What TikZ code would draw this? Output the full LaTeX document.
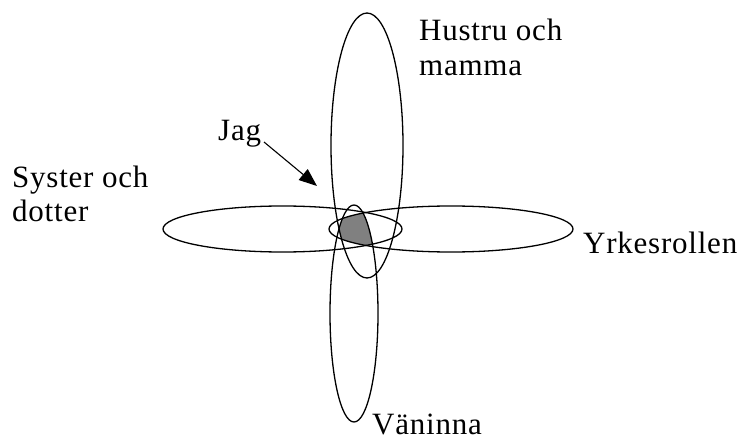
\documentclass[tikz,border=0pt]{standalone}
\usepackage{fontspec}
\setmainfont[LetterSpace=2.5]{Liberation Serif}
\usetikzlibrary{arrows.meta}
\begin{document}
\begin{tikzpicture}[x=1pt,y=-1pt,
  ring/.style={line width=1.3pt,black},
  lbl/.style={inner sep=0pt,anchor=base west,align=left,font=\fontsize{31}{35}\selectfont},
  pointer/.style={line width=1.1pt,-{Triangle[length=18pt,width=14pt]}}]
\useasboundingbox (0,0) rectangle (742,441);
% shaded core: intersection of all four roles
\begin{scope}
  \clip (367,145.5) ellipse [x radius=36, y radius=132.5];
  \clip (354,313.5) ellipse [x radius=24, y radius=108.5];
  \clip (282.5,229) ellipse [x radius=119.5, y radius=23];
  \fill[gray] (451,229) ellipse [x radius=122, y radius=23];
\end{scope}
% four role ellipses
\draw[ring] (367,145.5) ellipse [x radius=36, y radius=132.5];
\draw[ring] (354,313.5) ellipse [x radius=24, y radius=108.5];
\draw[ring] (282.5,229) ellipse [x radius=119.5, y radius=23];
\draw[ring] (451,229) ellipse [x radius=122, y radius=23];
% labels
\node[lbl] (hustru) at (419,76) {Hustru och\\mamma};
\node[lbl] (jag) at (218,141) {Jag};
\node[lbl] (syster) at (12,222) {Syster och\\dotter};
\node[lbl] (yrke) at (583,253) {Yrkesrollen};
\node[lbl] (van) at (372,434) {Väninna};
% arrow
\coordinate (jagstart) at (264,142);
\coordinate (jagtip) at (317,186);
\draw[pointer] (jagstart) -- (jagtip);
\end{tikzpicture}
\end{document}
